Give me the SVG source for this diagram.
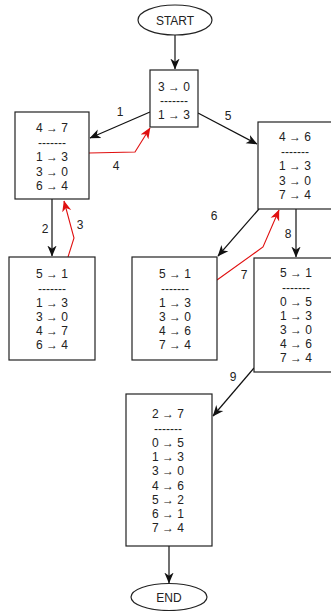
<svg xmlns="http://www.w3.org/2000/svg" width="331" height="611" viewBox="0 0 331 611">
<style>
.box{fill:#fff;stroke:#222;stroke-width:1.2}
.t{font-family:"Liberation Sans",Arial,sans-serif;font-size:12px;fill:#222;text-anchor:middle}
.lbl{font-family:"Liberation Sans",Arial,sans-serif;font-size:12px;fill:#222;text-anchor:middle}
.e{fill:none;stroke:#111;stroke-width:1.2;marker-end:url(#ab)}
.r{fill:none;stroke:#e01010;stroke-width:1.1;marker-end:url(#ar)}
</style>
<defs>
<marker id="ab" markerUnits="userSpaceOnUse" markerWidth="11" markerHeight="11" viewBox="0 0 10 10" refX="9.5" refY="5" orient="auto"><path d="M0,0.8 L10,5 L0,9.2 L2.8,5 z" fill="#111"/></marker>
<marker id="ar" markerUnits="userSpaceOnUse" markerWidth="11" markerHeight="11" viewBox="0 0 10 10" refX="9.5" refY="5" orient="auto"><path d="M0,0.8 L10,5 L0,9.2 L2.8,5 z" fill="#e01010"/></marker>
</defs>
<rect width="331" height="611" fill="#fff"/>
<g id="connectors">
<path class="e" d="M175,35 L175,69"/>
<path class="e" d="M150,112 L90,138"/>
<path class="r" d="M89,153 L135,152 L150,128"/>
<path class="e" d="M198,113 L257,144"/>
<path class="e" d="M52,199 L52,256"/>
<path class="r" d="M68,257 L74,238 L64,201"/>
<path class="e" d="M259,209 L218,256"/>
<path class="r" d="M217,280 L263,247 L279,210"/>
<path class="e" d="M296,209 L296,257"/>
<path class="e" d="M254,368 L213,416"/>
<path class="e" d="M169,546 L169,583"/>
<text class="lbl" x="120" y="116">1</text>
<text class="lbl" x="116" y="170">4</text>
<text class="lbl" x="228" y="120">5</text>
<text class="lbl" x="45" y="233">2</text>
<text class="lbl" x="80" y="229">3</text>
<text class="lbl" x="214" y="220">6</text>
<text class="lbl" x="244" y="279">7</text>
<text class="lbl" x="288" y="238">8</text>
<text class="lbl" x="233" y="381">9</text>
</g>
<g id="start">
<ellipse cx="175" cy="20" rx="37" ry="15" fill="#fff" stroke="#222" stroke-width="1.2"/>
<text class="t" x="175" y="24.5">START</text>
</g>
<g id="nA">
<rect class="box" x="150" y="70" width="48" height="57"/>
<text class="t" x="174" y="91">3 → 0</text>
<text class="t" x="174" y="105">-------</text>
<text class="t" x="174" y="119">1 → 3</text>
</g>
<g id="nB">
<rect class="box" x="15" y="112" width="74" height="87"/>
<text class="t" x="52" y="132">4 → 7</text>
<text class="t" x="52" y="146.5">-------</text>
<text class="t" x="52" y="161">1 → 3</text>
<text class="t" x="52" y="175.5">3 → 0</text>
<text class="t" x="52" y="190">6 → 4</text>
</g>
<g id="nC">
<rect class="box" x="258" y="122" width="80" height="87"/>
<text class="t" x="295" y="141">4 → 6</text>
<text class="t" x="295" y="155.5">-------</text>
<text class="t" x="295" y="170">1 → 3</text>
<text class="t" x="295" y="184.5">3 → 0</text>
<text class="t" x="295" y="199">7 → 4</text>
</g>
<g id="nD">
<rect class="box" x="9" y="257" width="86" height="103"/>
<text class="t" x="52" y="278">5 → 1</text>
<text class="t" x="52" y="292.5">-------</text>
<text class="t" x="52" y="307">1 → 3</text>
<text class="t" x="52" y="321">3 → 0</text>
<text class="t" x="52" y="335">4 → 7</text>
<text class="t" x="52" y="349">6 → 4</text>
</g>
<g id="nE">
<rect class="box" x="132" y="257" width="85" height="103"/>
<text class="t" x="175" y="278">5 → 1</text>
<text class="t" x="175" y="292.5">-------</text>
<text class="t" x="175" y="307">1 → 3</text>
<text class="t" x="175" y="321">3 → 0</text>
<text class="t" x="175" y="335">4 → 6</text>
<text class="t" x="175" y="349">7 → 4</text>
</g>
<g id="nF">
<rect class="box" x="254" y="258" width="84" height="114"/>
<text class="t" x="296" y="277">5 → 1</text>
<text class="t" x="296" y="291.5">-------</text>
<text class="t" x="296" y="306">0 → 5</text>
<text class="t" x="296" y="320">1 → 3</text>
<text class="t" x="296" y="334">3 → 0</text>
<text class="t" x="296" y="348">4 → 6</text>
<text class="t" x="296" y="362">7 → 4</text>
</g>
<g id="nG">
<rect class="box" x="126" y="394" width="86" height="152"/>
<text class="t" x="168" y="418">2 → 7</text>
<text class="t" x="168" y="432.5">-------</text>
<text class="t" x="168" y="447">0 → 5</text>
<text class="t" x="168" y="461">1 → 3</text>
<text class="t" x="168" y="475">3 → 0</text>
<text class="t" x="168" y="490">4 → 6</text>
<text class="t" x="168" y="504">5 → 2</text>
<text class="t" x="168" y="518">6 → 1</text>
<text class="t" x="168" y="532">7 → 4</text>
</g>
<g id="end">
<ellipse cx="169" cy="597" rx="38" ry="13.5" fill="#fff" stroke="#222" stroke-width="1.2"/>
<text class="t" x="169" y="601.5">END</text>
</g>
</svg>
